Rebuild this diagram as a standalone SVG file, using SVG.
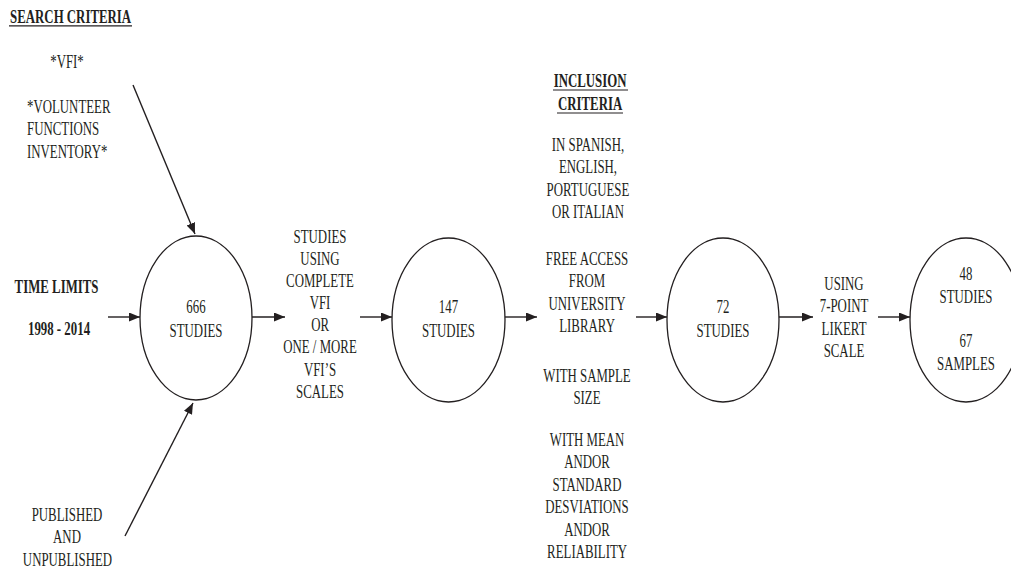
<svg xmlns="http://www.w3.org/2000/svg" width="1011" height="569" viewBox="0 0 1011 569">
<style>
text{font-size:18.5px;fill:#231f20;text-anchor:middle;transform-box:fill-box;transform-origin:center;transform:scaleX(0.695)}
text.l{text-anchor:start;transform-origin:left center}
text.b{font-weight:bold}
.e{fill:none;stroke:#231f20;stroke-width:1.3}
.c{fill:none;stroke:#231f20;stroke-width:1.4;marker-end:url(#ah)}
.u{stroke:#231f20;stroke-width:1.2}
</style>
<defs>
<marker id="ah" markerUnits="userSpaceOnUse" markerWidth="12" markerHeight="10" refX="11" refY="4.5" orient="auto">
<path d="M0,0 L11,4.5 L0,9 Z" fill="#231f20"/>
</marker>
</defs>
<rect width="1011" height="569" fill="#fff"/>
<g font-family="Liberation Serif, Times New Roman, serif">
<g id="search-criteria">
<text class="b" x="70.5" y="23">SEARCH CRITERIA</text>
<line class="u" x1="9" y1="25.8" x2="132" y2="25.8"/>
</g>
<g id="vfi-terms">
<text x="67" y="68">*VFI*</text>
<text class="l" x="27" y="113">*VOLUNTEER</text>
<text class="l" x="27" y="135.5">FUNCTIONS</text>
<text class="l" x="27" y="158">INVENTORY*</text>
</g>
<g id="time-limits">
<text class="b" x="56.5" y="293">TIME LIMITS</text>
<text class="b" x="59" y="335">1998 - 2014</text>
</g>
<g id="published">
<text x="67" y="521">PUBLISHED</text>
<text x="67" y="543.5">AND</text>
<text x="67.5" y="566">UNPUBLISHED</text>
</g>
<g id="n666">
<ellipse class="e" cx="196" cy="318" rx="56" ry="82"/>
<text x="196" y="313">666</text>
<text x="196" y="337">STUDIES</text>
</g>
<g id="filter1">
<text x="320" y="243">STUDIES</text>
<text x="320" y="265">USING</text>
<text x="320" y="287">COMPLETE</text>
<text x="320" y="309">VFI</text>
<text x="320" y="331">OR</text>
<text x="320" y="353">ONE / MORE</text>
<text x="320" y="376">VFI’S</text>
<text x="320" y="398">SCALES</text>
</g>
<g id="n147">
<ellipse class="e" cx="448.5" cy="320" rx="56.5" ry="82"/>
<text x="448.5" y="313">147</text>
<text x="448.5" y="337">STUDIES</text>
</g>
<g id="inclusion">
<text class="b" x="590" y="87">INCLUSION</text>
<line class="u" x1="553" y1="90" x2="628" y2="90"/>
<text class="b" x="590" y="110">CRITERIA</text>
<line class="u" x1="557" y1="113" x2="623" y2="113"/>
<text x="588" y="151">IN SPANISH,</text>
<text x="588" y="173.5">ENGLISH,</text>
<text x="588" y="196">PORTUGUESE</text>
<text x="588" y="218">OR ITALIAN</text>
<text x="587" y="265">FREE ACCESS</text>
<text x="587" y="287.5">FROM</text>
<text x="587" y="310">UNIVERSITY</text>
<text x="587" y="332">LIBRARY</text>
<text x="587" y="382">WITH SAMPLE</text>
<text x="587" y="404">SIZE</text>
<text x="587" y="446">WITH MEAN</text>
<text x="587" y="468">ANDOR</text>
<text x="587" y="491">STANDARD</text>
<text x="587" y="513">DESVIATIONS</text>
<text x="587" y="536">ANDOR</text>
<text x="587" y="558">RELIABILITY</text>
</g>
<g id="n72">
<ellipse class="e" cx="723" cy="320" rx="56" ry="82"/>
<text x="723" y="313">72</text>
<text x="723" y="337">STUDIES</text>
</g>
<g id="likert">
<text x="844" y="290">USING</text>
<text x="844" y="312.5">7-POINT</text>
<text x="844" y="335">LIKERT</text>
<text x="844" y="357">SCALE</text>
</g>
<g id="n48">
<ellipse class="e" cx="966" cy="320" rx="56" ry="82"/>
<text x="966" y="280">48</text>
<text x="966" y="303">STUDIES</text>
<text x="966" y="347">67</text>
<text x="966" y="370">SAMPLES</text>
</g>
</g>
<g id="connectors">
<line class="c" x1="133" y1="85" x2="195" y2="234"/>
<line class="c" x1="125" y1="536" x2="193" y2="403"/>
<line class="c" x1="108" y1="317" x2="140" y2="317"/>
<line class="c" x1="252" y1="317" x2="285" y2="317"/>
<line class="c" x1="360" y1="317" x2="392" y2="317"/>
<line class="c" x1="505" y1="317" x2="537" y2="317"/>
<line class="c" x1="636" y1="317" x2="667" y2="317"/>
<line class="c" x1="779" y1="317" x2="813" y2="317"/>
<line class="c" x1="878" y1="317" x2="910" y2="317"/>
</g>
</svg>
